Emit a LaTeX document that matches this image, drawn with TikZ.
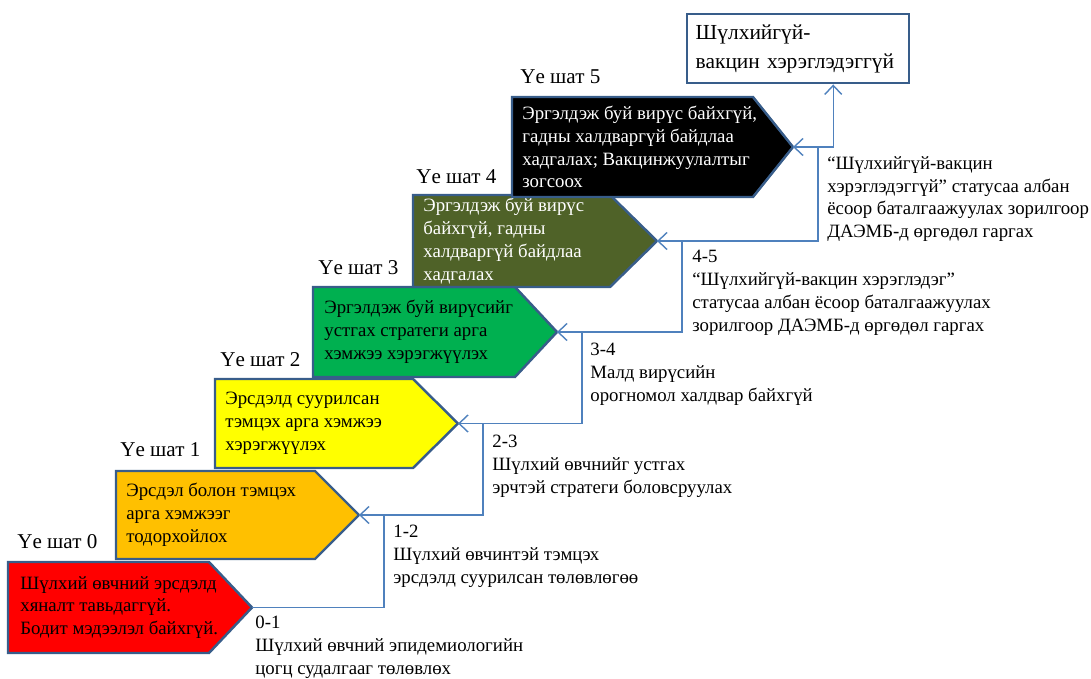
\documentclass[tikz,border=0pt]{standalone}
\usepackage{fontspec}
\setmainfont{Liberation Serif}
\usetikzlibrary{arrows.meta}
\definecolor{edgeblue}{RGB}{56,93,138}
\definecolor{lineblue}{RGB}{79,129,189}
\definecolor{stepred}{RGB}{255,0,0}
\definecolor{steporange}{RGB}{255,192,0}
\definecolor{stepyellow}{RGB}{255,255,0}
\definecolor{stepgreen}{RGB}{0,176,80}
\definecolor{stepolive}{RGB}{79,98,40}

\begin{document}
\begin{tikzpicture}[
    stepshape/.style={draw=edgeblue, line width=1.4pt},
    steptext/.style={anchor=west, align=left, inner sep=0pt, font=\fontsize{10.7}{13}\selectfont},
    steplabel/.style={anchor=west, inner sep=0pt, font=\fontsize{12}{14}\selectfont},
    note/.style={anchor=north west, align=left, inner sep=0pt, font=\fontsize{10.7}{13}\selectfont},
    conn/.style={draw=lineblue, line width=0.8pt, -{Straight Barb[length=1.8mm,width=3.4mm]}}]
    \useasboundingbox (0,0) rectangle (21.82,13.56);

    % Step 0
    \draw[stepshape, fill=stepred] (0.16,2.32) -- (4.18,2.32) -- (5.04,1.41) -- (4.18,0.50) -- (0.16,0.50) -- cycle;
    \coordinate (tip0) at (5.04,1.41);
    \node[steplabel] (lbl0) at (0.34,2.72) {Үе шат 0};
    \node[steptext] (txt0) at (0.40,1.41) {Шүлхий өвчний эрсдэлд\\хяналт тавьдаггүй.\\Бодит мэдээлэл байхгүй.};

    % Step 1
    \draw[stepshape, fill=steporange] (2.32,4.14) -- (6.30,4.14) -- (7.18,3.26) -- (6.30,2.38) -- (2.32,2.38) -- cycle;
    \coordinate (tip1) at (7.18,3.26);
    \node[steplabel] (lbl1) at (2.40,4.56) {Үе шат 1};
    \node[steptext] (txt1) at (2.52,3.26) {Эрсдэл болон тэмцэх\\арга хэмжээг\\тодорхойлох};

    % Step 2
    \draw[stepshape, fill=stepyellow] (4.30,5.98) -- (8.26,5.98) -- (9.16,5.09) -- (8.26,4.20) -- (4.30,4.20) -- cycle;
    \coordinate (tip2) at (9.16,5.09);
    \node[steplabel] (lbl2) at (4.40,6.36) {Үе шат 2};
    \node[steptext] (txt2) at (4.50,5.09) {Эрсдэлд суурилсан\\тэмцэх арга хэмжээ\\хэрэгжүүлэх};

    % Step 3
    \draw[stepshape, fill=stepgreen] (6.26,7.82) -- (10.30,7.82) -- (11.14,6.92) -- (10.30,6.02) -- (6.26,6.02) -- cycle;
    \coordinate (tip3) at (11.14,6.92);
    \node[steplabel] (lbl3) at (6.36,8.20) {Үе шат 3};
    \node[steptext] (txt3) at (6.48,6.92) {Эргэлдэж буй вирүсийг\\устгах стратеги арга\\хэмжээ хэрэгжүүлэх};

    % Step 4
    \draw[stepshape, fill=stepolive] (8.26,9.66) -- (12.20,9.66) -- (13.14,8.74) -- (12.20,7.82) -- (8.26,7.82) -- cycle;
    \coordinate (tip4) at (13.14,8.74);
    \node[steplabel] (lbl4) at (8.32,10.02) {Үе шат 4};
    \node[steptext, text=white] (txt4) at (8.46,8.74) {Эргэлдэж буй вирүс\\байхгүй, гадны\\халдваргүй байдлаа\\хадгалах};

    % Step 5
    \draw[stepshape, fill=black] (10.24,11.62) -- (15.06,11.62) -- (15.86,10.62) -- (15.06,9.62) -- (10.24,9.62) -- cycle;
    \coordinate (tip5) at (15.86,10.62);
    \node[steplabel] (lbl5) at (10.40,12.02) {Үе шат 5};
    \node[steptext, text=white] (txt5) at (10.44,10.62) {Эргэлдэж буй вирүс байхгүй,\\гадны халдваргүй байдлаа\\хадгалах; Вакцинжуулалтыг\\зогсоох};

    % Final status
    \node[draw=edgeblue, line width=1.4pt, anchor=north west, align=left, text width=4.1cm,
          inner xsep=0.17cm, minimum height=1.38cm, font=\fontsize{12.2}{16.4}\selectfont]
          (top) at (13.72,13.30) {Шүлхийгүй-\\вакцин хэрэглэдэггүй};

    % Connectors
    \draw[conn] (tip0) -| ([xshift=5mm]tip1) -- (tip1);
    \draw[conn] (tip1) -| ([xshift=5mm]tip2) -- (tip2);
    \draw[conn] (tip2) -| ([xshift=5mm]tip3) -- (tip3);
    \draw[conn] (tip3) -| ([xshift=5mm]tip4) -- (tip4);
    \draw[conn] (tip4) -| ([xshift=5mm]tip5) -- (tip5);
    \draw[conn] (tip5) -| ([xshift=7mm]top.south);

    % Notes
    \node[note] (n01) at (5.10,1.24) {0-1\\Шүлхий өвчний эпидемиологийн\\цогц судалгааг төлөвлөх};
    \node[note] (n12) at (7.86,3.06) {1-2\\Шүлхий өвчинтэй тэмцэх\\эрсдэлд суурилсан төлөвлөгөө};
    \node[note] (n23) at (9.84,4.86) {2-3\\Шүлхий өвчнийг устгах\\эрчтэй стратеги боловсруулах};
    \node[note] (n34) at (11.80,6.70) {3-4\\Малд вирүсийн\\орогномол халдвар байхгүй};
    \node[note] (n45) at (13.84,8.56) {4-5\\“Шүлхийгүй-вакцин хэрэглэдэг”\\статусаа албан ёсоор баталгаажуулах\\зорилгоор ДАЭМБ-д өргөдөл гаргах};
    \node[note] (n5) at (16.54,10.44) {“Шүлхийгүй-вакцин\\хэрэглэдэггүй” статусаа албан\\ёсоор баталгаажуулах зорилгоор\\ДАЭМБ-д өргөдөл гаргах};
\end{tikzpicture}
\end{document}
